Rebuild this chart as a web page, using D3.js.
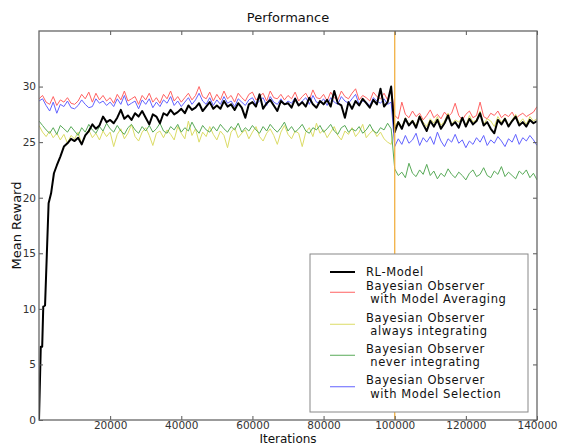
<!DOCTYPE html>
<html><head><meta charset="utf-8">
<script src="https://cdn.jsdelivr.net/npm/d3@7"></script>
<style>body{margin:0;background:#fff}svg{display:block;font-family:"DejaVu Sans",sans-serif}</style>
</head><body><svg id="c" width="561" height="445"></svg>
<script>
// ---- data ----
const title = "Performance";
const xLabel = "Iterations";
const yLabel = "Mean Reward";
const xTicks = [20000, 40000, 60000, 80000, 100000, 120000, 140000];
const yTicks = [0, 5, 10, 15, 20, 25, 30];
const changePoint = 100000;
const iterations = d3.range(0, 140001, 1000);

const rlEarlyIter = [0, 500, 900, 1200, 1700, 2700, 3400, 4200];
const rlEarlyValues = [0, 6.6, 6.6, 10.2, 10.3, 19.5, 20.4, 22.2];
const rlMainIter = d3.range(5000, 140001, 1000);
const rlValues = [
22.9,23.7,24.6,24.9,25.3,
25.1,25.4,24.8,25.6,26.0,26.6,26.2,26.5,27.3,26.8,
27.0,26.7,27.2,27.9,27.1,27.4,27.0,27.6,27.3,27.8,
27.2,26.6,27.5,27.3,26.7,27.6,27.4,27.9,27.5,27.7,
28.0,27.6,28.3,27.9,28.1,28.5,27.8,28.2,28.6,28.0,
28.3,28.0,28.7,28.2,28.4,27.9,28.5,28.1,27.2,28.4,
28.6,28.2,29.3,28.0,28.5,28.8,28.3,27.8,28.7,28.4,
28.5,28.1,28.9,28.3,28.6,28.2,29.0,28.4,28.1,28.7,
28.4,28.8,28.2,29.6,28.5,28.3,27.2,28.6,28.0,28.7,
28.3,28.9,28.5,28.1,28.8,28.4,29.8,28.2,28.6,30.0,
25.9,26.8,26.2,27.1,26.5,26.9,26.3,27.3,26.6,26.0,
26.9,26.4,27.0,26.2,26.7,27.4,26.5,26.8,26.3,27.2,
26.4,27.1,26.6,26.9,27.6,26.5,26.8,26.2,25.8,27.0,
26.6,27.1,26.4,26.9,27.3,26.5,26.8,26.4,27.0,26.7,26.9];

const averagingValues = [
28.9,29.2,28.6,28.4,29.1,28.3,28.8,28.6,29.0,28.5,
28.4,28.7,29.3,28.9,29.5,28.6,29.4,28.8,29.2,28.7,
29.0,28.5,29.3,28.8,29.6,28.7,28.9,29.1,28.4,29.2,
28.8,29.4,28.6,29.0,28.5,29.3,28.9,29.6,28.7,29.1,
28.6,29.0,29.4,28.8,29.2,30.0,29.1,28.9,29.5,28.7,
29.3,28.8,29.6,28.9,29.2,28.6,29.4,29.0,28.7,29.3,
29.5,28.8,29.1,29.4,28.7,29.6,29.0,28.9,29.3,28.8,
29.2,28.9,29.5,28.7,29.1,29.4,28.8,29.7,29.0,28.9,
29.3,28.7,29.5,29.0,28.8,29.6,29.1,28.9,29.4,29.8,
28.8,29.2,29.0,28.7,29.5,29.1,28.9,29.4,28.8,29.9,
27.4,27.1,28.6,27.5,27.2,27.8,27.3,27.6,27.0,27.4,
27.9,27.2,27.5,27.1,27.7,27.3,27.6,28.5,27.4,27.0,
27.5,27.8,27.2,27.4,28.6,27.3,27.1,27.6,27.4,27.8,
27.2,27.5,27.3,27.7,27.1,27.4,27.6,27.3,27.5,27.7,28.2];

const alwaysValues = [
26.5,25.9,25.5,26.0,25.4,25.8,25.2,25.7,24.9,25.6,
25.3,25.9,24.8,25.6,26.1,25.4,25.8,25.2,26.0,25.5,
25.9,24.6,25.7,26.2,25.3,25.8,26.6,25.5,25.1,25.9,
26.3,25.6,24.7,25.8,26.0,25.4,26.1,25.7,25.2,26.4,
25.8,25.3,26.9,25.6,26.2,25.0,25.9,25.5,26.4,25.7,
25.2,26.0,25.6,24.5,25.9,26.3,25.4,25.8,26.1,25.3,
25.9,26.4,25.5,25.1,25.8,26.2,25.6,24.8,25.9,26.5,
25.7,25.3,26.0,25.8,24.6,25.9,26.3,25.5,26.7,25.8,
26.1,25.4,25.9,26.4,25.6,25.2,26.0,25.7,26.3,25.5,
25.9,26.6,25.4,25.8,26.1,25.5,25.9,25.3,25.0,24.8,
26.4,26.9,26.3,27.2,26.6,27.0,26.5,27.4,26.8,26.4,
27.1,26.7,27.3,26.5,26.9,27.6,26.6,27.0,26.8,27.2,
26.5,27.4,26.8,27.0,27.8,26.6,27.1,26.9,26.4,27.3,
26.8,27.2,26.5,27.0,27.5,26.7,27.1,26.6,27.3,26.9,27.1];

const neverValues = [
26.9,26.5,26.1,25.8,26.3,25.7,26.5,26.2,25.9,26.4,
26.0,25.6,26.3,25.9,26.6,26.1,25.8,26.4,26.0,26.7,
26.2,25.9,26.5,26.0,25.7,26.3,26.6,26.1,25.8,26.4,
26.0,26.5,25.9,26.2,26.7,26.0,25.8,26.4,26.1,26.6,
25.9,26.3,26.0,26.8,26.2,25.8,26.5,26.1,25.9,26.4,
26.0,26.6,26.2,25.9,26.4,26.1,26.7,25.9,26.3,26.0,
26.5,26.1,25.8,26.4,26.0,26.6,26.2,25.9,26.3,26.8,
26.0,26.4,25.9,26.2,26.6,26.0,25.8,26.3,26.1,26.5,
25.9,26.2,26.6,26.0,25.7,26.3,26.5,25.9,26.2,26.0,
26.4,25.8,26.1,26.6,26.0,25.8,26.3,26.1,26.7,26.2,
22.6,22.0,22.3,21.8,23.1,22.2,21.9,22.5,22.1,23.0,
22.0,22.4,21.7,22.2,21.9,22.6,22.1,21.8,22.3,22.0,
21.6,22.2,22.5,21.9,22.1,22.7,22.0,21.8,22.4,22.1,
22.8,21.9,22.3,22.0,21.7,22.4,22.1,22.5,21.8,22.2,21.6];

const selectionValues = [
28.7,28.9,28.3,27.8,28.6,27.6,28.4,28.2,28.7,28.1,
28.0,28.3,28.8,28.4,28.1,28.2,28.9,28.5,28.7,28.3,
28.6,28.2,28.9,28.4,29.2,28.3,28.5,28.7,28.0,28.8,
28.4,28.9,28.1,28.6,28.2,28.8,28.5,29.1,28.3,28.7,
28.2,28.6,29.0,28.4,28.8,29.4,28.7,28.4,29.0,28.3,
28.8,28.4,29.1,28.5,28.7,28.2,28.9,28.6,28.3,28.8,
29.0,28.4,28.7,29.0,28.3,29.1,28.6,28.4,28.9,28.4,
28.7,28.5,29.0,28.3,28.7,29.0,28.4,29.2,28.6,28.5,
28.9,28.3,29.0,28.6,28.4,29.1,28.7,28.5,28.9,29.3,
28.4,28.7,28.6,28.3,29.0,28.7,28.5,28.9,28.4,28.6,
24.6,25.3,24.8,25.6,24.9,25.2,25.8,24.7,25.4,25.0,
25.5,24.8,25.9,25.1,24.6,25.3,25.0,25.7,24.9,25.2,
24.5,25.1,24.8,25.4,25.0,25.6,24.7,25.2,24.9,25.5,
25.1,24.6,25.3,25.0,25.7,24.8,25.4,25.1,25.6,25.2,24.7];

const seriesNames = [
  ["RL-Model"],
  ["Bayesian Observer", " with Model Averaging"],
  ["Bayesian Observer", " always integrating"],
  ["Bayesian Observer", " never integrating"],
  ["Bayesian Observer", " with Model Selection"]];
const seriesColors = ["#000000", "#ff6262", "#dcdc66", "#58aa58", "#6262ff"];
const seriesWidths = [2, 1, 1, 1, 1];

// ---- build ----
const rlIter = rlEarlyIter.concat(rlMainIter);
const rlAll = rlEarlyValues.concat(rlValues);
const series = [
  {name: seriesNames[0], color: seriesColors[0], w: seriesWidths[0], pts: rlIter.map((t,i)=>[t, rlAll[i]])},
  {name: seriesNames[1], color: seriesColors[1], w: seriesWidths[1], pts: iterations.map((t,i)=>[t, averagingValues[i]])},
  {name: seriesNames[2], color: seriesColors[2], w: seriesWidths[2], pts: iterations.map((t,i)=>[t, alwaysValues[i]])},
  {name: seriesNames[3], color: seriesColors[3], w: seriesWidths[3], pts: iterations.map((t,i)=>[t, neverValues[i]])},
  {name: seriesNames[4], color: seriesColors[4], w: seriesWidths[4], pts: iterations.map((t,i)=>[t, selectionValues[i]])}
];

const svg = d3.select("#c");
const L = 39, R = 537, T = 31, B = 420;
const x = d3.scaleLinear().domain([0, 140000]).range([L, R]);
const y = d3.scaleLinear().domain([0, 35]).range([B, T]);

svg.append("text").attr("x", (L+R)/2).attr("y", 22).attr("text-anchor", "middle")
  .attr("font-size", 13).attr("fill", "#111").text(title);

const plot = svg.append("g");
plot.append("defs").append("clipPath").attr("id","clip").append("rect")
  .attr("x", L).attr("y", T).attr("width", R-L).attr("height", B-T);

const line = d3.line().x(d => x(d[0])).y(d => y(d[1]));
const g = plot.append("g").attr("clip-path", "url(#clip)");
// draw colored series first, black on top
[1,2,3,4,0].forEach(k => {
  const s = series[k];
  g.append("path").datum(s.pts).attr("d", line).attr("fill", "none")
    .attr("stroke", s.color).attr("stroke-width", s.w).attr("stroke-linejoin", "round");
});
g.append("line").attr("x1", x(changePoint)).attr("x2", x(changePoint))
  .attr("y1", T).attr("y2", B).attr("stroke", "#f2b044").attr("stroke-width", 1.3);

// axes
const styleAxis = sel => {
  sel.select(".domain").remove();
  sel.selectAll(".tick line").attr("stroke", "#555");
  sel.selectAll(".tick text").attr("fill", "#333").attr("font-size", 10.5).attr("font-family", "DejaVu Sans, sans-serif");
};
svg.append("g").attr("transform", `translate(0,${B})`)
  .call(d3.axisBottom(x).tickValues(xTicks).tickSize(-4).tickPadding(1.5).tickFormat(d3.format("d"))).call(styleAxis);
svg.append("g").attr("transform", `translate(0,${T})`)
  .call(d3.axisTop(x).tickValues(xTicks).tickSize(-4).tickFormat("")).call(styleAxis);
svg.append("g").attr("transform", `translate(${L},0)`)
  .call(d3.axisLeft(y).tickValues(yTicks).tickSize(-4).tickPadding(3)).call(styleAxis);
svg.append("g").attr("transform", `translate(${R},0)`)
  .call(d3.axisRight(y).tickValues(yTicks).tickSize(-4).tickFormat("")).call(styleAxis);

svg.append("rect").attr("x", L).attr("y", T).attr("width", R-L).attr("height", B-T)
  .attr("fill", "none").attr("stroke", "#666").attr("stroke-width", 1.3);

svg.append("text").attr("x", (L+R)/2).attr("y", 442.8).attr("text-anchor", "middle")
  .attr("font-size", 12).attr("fill", "#111").text(xLabel);
svg.append("text").attr("transform", `translate(21,${(T+B)/2}) rotate(-90)`).attr("text-anchor", "middle")
  .attr("font-size", 13).attr("fill", "#111").text(yLabel);

// legend
const lg = svg.append("g");
lg.append("rect").attr("x", 310).attr("y", 254).attr("width", 218).attr("height", 158)
  .attr("fill", "#fff").attr("stroke", "#888").attr("stroke-width", 1);
const entryY = [272, 285.5, 317.5, 348.5, 380];
const lineGap = 13.5;
series.forEach((s, i) => {
  const y0 = entryY[i];
  const ly = s.name.length > 1 ? y0 + lineGap / 2 : y0;
  lg.append("line").attr("x1", 330).attr("x2", 355).attr("y1", ly).attr("y2", ly)
    .attr("stroke", s.color).attr("stroke-width", s.w);
  s.name.forEach((n, j) => {
    lg.append("text").attr("font-size", 11.5).attr("letter-spacing", 0.6).attr("fill", "#111")
      .style("white-space", "pre")
      .attr("x", 366).attr("y", y0 + j * lineGap).attr("dy", "0.35em").text(n);
  });
});
</script></body></html>
